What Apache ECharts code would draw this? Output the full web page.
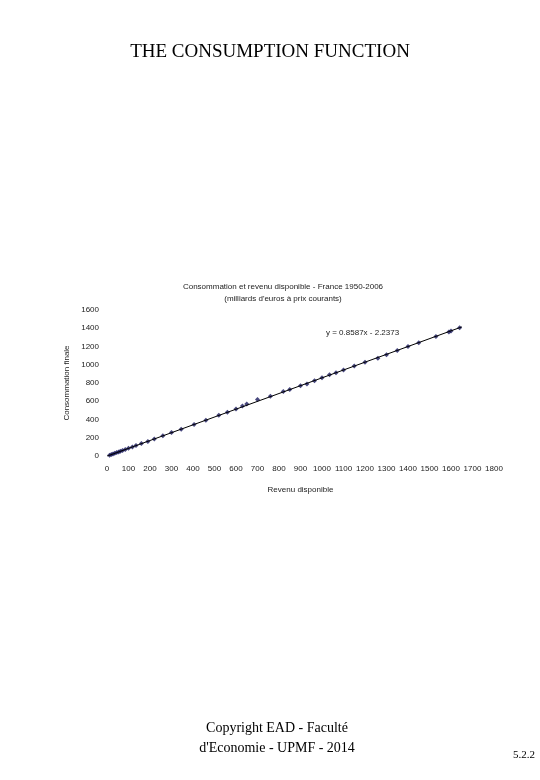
<!DOCTYPE html>
<html><head><meta charset="utf-8">
<script src="https://cdn.jsdelivr.net/npm/echarts@6/dist/echarts.min.js"></script>
<style>body{margin:0;background:#fff}#c{width:540px;height:780px}</style>
</head><body><div id="c"></div>
<script>
// revenu disponible / consommation finale (milliards d'euros)
var revenu = [12, 20, 28, 36, 45, 54, 62, 72, 85, 100, 118, 135, 160, 190, 220, 260, 300, 345, 405, 460, 520, 560, 600, 630, 650, 700, 760, 820, 850, 900, 930, 965, 1000, 1035, 1065, 1100, 1150, 1200, 1260, 1300, 1350, 1400, 1450, 1530, 1590, 1600, 1640]
var conso = [9, 16, 22, 29, 37, 44, 51, 60, 71, 84, 99, 114, 136, 160, 186, 222, 258, 294, 345, 392, 446, 480, 516, 548, 570, 620, 655, 708, 728, 770, 790, 826, 858, 890, 912, 942, 985, 1028, 1070, 1110, 1156, 1200, 1242, 1310, 1360, 1370, 1406]
var trendX = [0, 1650]
var trendY = [-2.2, 1414.6]

var chart = echarts.init(document.getElementById('c'))
var txt = '#222'
var plain = function (v) { return String(v) }
chart.setOption({
  animation: false,
  title: [
    { text: 'THE CONSUMPTION FUNCTION', left: 'center', top: 38, textStyle: { fontFamily: 'Liberation Serif', fontSize: 19, fontWeight: 'normal', color: '#000' } },
    { text: 'Consommation et revenu disponible - France 1950-2006\n(milliards d\'euros à prix courants)', left: 278, textAlign: 'center', top: 276, textStyle: { fontFamily: 'Liberation Sans', fontSize: 8, fontWeight: 'normal', color: txt, lineHeight: 12 } },
    { text: 'Copyright EAD - Faculté\nd\'Economie - UPMF - 2014', left: 272, textAlign: 'center', top: 713, textStyle: { fontFamily: 'Liberation Serif', fontSize: 14, fontWeight: 'normal', color: '#000', lineHeight: 20 } },
    { text: '5.2.2', left: 508, top: 745, textStyle: { fontFamily: 'Liberation Serif', fontSize: 11, fontWeight: 'normal', color: '#000' } },
    { text: 'y = 0.8587x - 2.2373', left: 321, top: 324, textStyle: { fontFamily: 'Liberation Sans', fontSize: 8, fontWeight: 'normal', color: txt } }
  ],
  grid: { left: 107, right: 46, top: 310, bottom: 324 },
  xAxis: {
    type: 'value', min: 0, max: 1800, interval: 100,
    name: 'Revenu disponible', nameLocation: 'middle', nameGap: 30,
    nameTextStyle: { fontFamily: 'Liberation Sans', fontSize: 8, color: txt },
    axisLine: { show: false }, axisTick: { show: false }, splitLine: { show: false },
    axisLabel: { fontFamily: 'Liberation Sans', fontSize: 8, color: txt, margin: 9, formatter: plain }
  },
  yAxis: {
    type: 'value', min: 0, max: 1600, interval: 200,
    name: 'Consommation finale', nameLocation: 'middle', nameGap: 30,
    nameTextStyle: { fontFamily: 'Liberation Sans', fontSize: 8, color: txt },
    axisLine: { show: false }, axisTick: { show: false }, splitLine: { show: false },
    axisLabel: { fontFamily: 'Liberation Sans', fontSize: 8, color: txt, margin: 8, formatter: plain }
  },
  series: [
    { type: 'line', data: trendX.map(function (x, i) { return [x, trendY[i]] }), symbol: 'none', lineStyle: { color: '#000', width: 1 } },
    { type: 'scatter', data: revenu.map(function (x, i) { return [x, conso[i]] }), symbol: 'diamond', symbolSize: 5, itemStyle: { color: '#1a1a5e' } }
  ]
})
</script></body></html>
